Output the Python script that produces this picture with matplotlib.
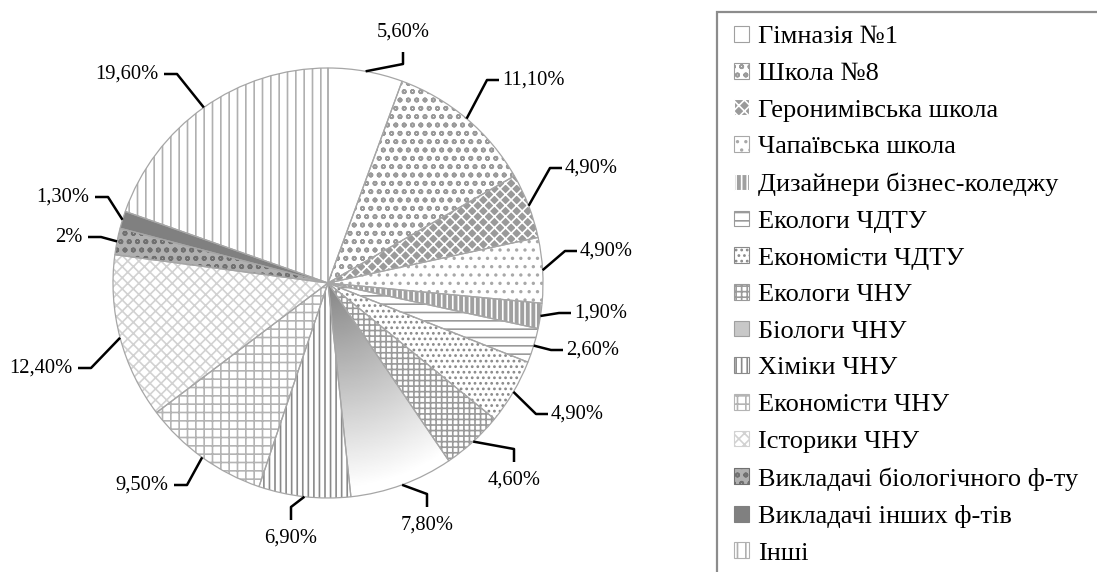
import numpy as np
import matplotlib.pyplot as plt
from matplotlib.patches import Patch, Rectangle

plt.rcParams['font.family'] = ['Liberation Serif', 'DejaVu Serif']
plt.rcParams['hatch.linewidth'] = 1.2

labels = ['Гімназія №1', 'Школа №8', 'Геронимівська школа', 'Чапаївська школа',
          'Дизайнери бізнес-коледжу', 'Екологи ЧДТУ', 'Економісти ЧДТУ',
          'Екологи ЧНУ', 'Біологи ЧНУ', 'Хіміки ЧНУ', 'Економісти ЧНУ',
          'Історики ЧНУ', 'Викладачі біологічного ф-ту', 'Викладачі інших ф-тів', 'Інші']
values = [5.6, 11.1, 4.9, 4.9, 1.9, 2.6, 4.9, 4.6, 7.8, 6.9, 9.5, 12.4, 2.0, 1.3, 19.6]
pct_text = ['5,60%', '11,10%', '4,90%', '4,90%', '1,90%', '2,60%', '4,90%', '4,60%',
            '7,80%', '6,90%', '9,50%', '12,40%', '2%', '1,30%', '19,60%']

# fill styles per slice
faces = ['white', 'white', '#9a9a9a', 'white', '#a0a0a0', 'white', 'white', 'white',
         'none', 'white', 'white', 'white', '#b0b0b0', '#808080', 'white']
hatches = [None, 'oo', 'xxx', '..', '|||', '--', '...', '+++',
           None, '|||', '++', 'xxx', 'oo', None, '||']
hatch_cols = ['#a0a0a0', '#9a9a9a', 'white', '#a8a8a8', 'white', '#9a9a9a', '#8a8a8a', '#9a9a9a',
              '#a0a0a0', '#8a8a8a', '#b4b4b4', '#d2d2d2', '#707070', '#808080', '#b0b0b0']

# label text positions in pixels (x, y from top) and side where leader attaches
label_pos = [(403, 32, 'b'), (502, 80, 'l'), (565, 168, 'l'), (580, 251, 'l'),
             (574, 313, 'l'), (566, 350, 'l'), (551, 414, 'l'), (514, 480, 't'),
             (427, 525, 't'), (291, 538, 't'), (168, 485, 'r'), (72, 368, 'r'),
             (82, 237, 'r'), (89, 197, 'r'), (158, 74, 'r')]

W, H = 1097, 572
cx, cy, R = 328, H - 283, 215

fig = plt.figure(figsize=(W / 100, H / 100), dpi=100)
ax = fig.add_axes([0, 0, 1, 1])

wedges, _ = ax.pie(values, startangle=90, counterclock=False, center=(cx, cy), radius=R,
                   colors=faces, wedgeprops=dict(linewidth=0))
for w, h, hc in zip(wedges, hatches, hatch_cols):
    w.set_edgecolor(hc)
    if h:
        w.set_hatch(h)

# radial gradient for "Біологи ЧНУ"
yy, xx = np.mgrid[cy - R:cy + R:400j, cx - R:cx + R:400j]
d = np.hypot(xx - cx, yy - cy) / R
img = np.clip(0.52 + 0.5 * d, 0, 1)
im = ax.imshow(img, cmap='gray', vmin=0, vmax=1, origin='lower',
               extent=(cx - R, cx + R, cy - R, cy + R), zorder=1.5)
im.set_clip_path(wedges[8])

outline, _ = ax.pie(values, startangle=90, counterclock=False, center=(cx, cy), radius=R,
                    wedgeprops=dict(fill=False, edgecolor='#a6a6a6', linewidth=0.9))
for w in outline:
    w.set_zorder(2)

# data labels with elbow leader lines
for w, txt, (tx, ty, side) in zip(wedges, pct_text, label_pos):
    th = np.deg2rad((w.theta1 + w.theta2) / 2)
    p0 = (cx + R * np.cos(th), cy + R * np.sin(th))
    ty = H - ty
    if side == 'l':
        elbow, end, ha, va = (tx - 15, ty), (tx - 3, ty), 'left', 'center'
    elif side == 'r':
        elbow, end, ha, va = (tx + 19, ty), (tx + 6, ty), 'right', 'center'
    elif side == 't':
        elbow, end, ha, va = (tx, ty + 31), (tx, ty + 18), 'center', 'center'
    else:
        elbow, end, ha, va = (tx, ty - 32), (tx, ty - 20), 'center', 'center'
    ax.plot([p0[0], elbow[0], end[0]], [p0[1], elbow[1], end[1]],
            color='black', lw=1.8, solid_capstyle='butt', zorder=3)
    ax.text(tx, ty, txt, ha=ha, va=va, fontsize=14.8, color='black')

ax.set_xlim(0, W)
ax.set_ylim(0, H)
ax.set_aspect('auto')
ax.axis('off')

handles = []
for f, h, hc in zip(faces, hatches, hatch_cols):
    if f == 'none':
        f = '#c8c8c8'
    handles.append(Patch(facecolor=f, hatch=h, edgecolor=hc if hc != 'white' else '#8a8a8a',
                         linewidth=0.8))
handles[2] = Patch(facecolor='#9a9a9a', hatch='xxx', edgecolor='white', linewidth=0.8)
handles[4] = Patch(facecolor='#a0a0a0', hatch='|||', edgecolor='white', linewidth=0.8)

fig.legend(handles, labels, loc='upper left', bbox_to_anchor=(734 / W, 1 - 26 / H),
           frameon=False, fontsize=19, handlelength=0.55, handleheight=0.55,
           handletextpad=0.35, labelspacing=0.545, borderpad=0, borderaxespad=0)

fig.add_artist(Rectangle((717 / W, -0.1), 0.5, 1.1 - 12 / H, transform=fig.transFigure,
                         fill=False, edgecolor='#8c8c8c', lw=1.6))

fig.savefig('out.png', dpi=100)
